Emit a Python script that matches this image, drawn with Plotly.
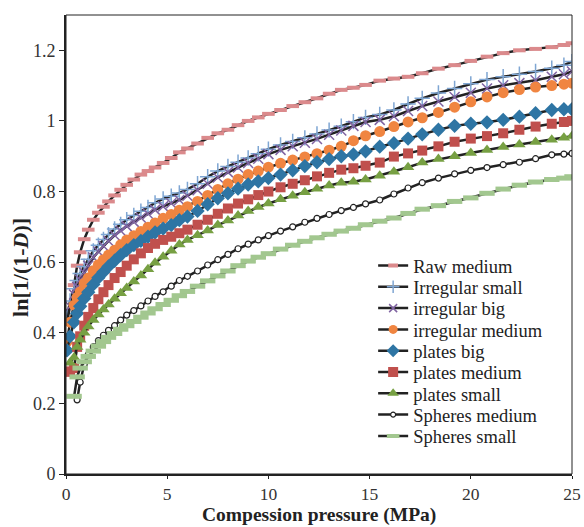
import plotly.graph_objects as go

pressure = [0.05, 0.2, 0.4, 0.55, 0.7, 0.9, 1.1, 1.35, 1.6, 1.85, 2.1, 2.4, 2.7, 3.0, 3.35, 3.7,
            4.05, 4.4, 4.8, 5.2, 5.6, 6.0, 6.5, 7.0, 7.5, 8.0, 8.5, 9.0, 9.5, 10.0, 10.6, 11.2,
            11.8, 12.4, 13.0, 13.6, 14.2, 14.8, 15.5, 16.2, 16.9, 17.6, 18.4, 19.2, 20.0, 20.8,
            21.6, 22.4, 23.2, 24.0, 24.6, 25.0]

raw_medium = [None, None, 0.535, 0.59, 0.628, 0.665, 0.692, 0.72, 0.74, 0.757, 0.772, 0.789, 0.805,
              0.819, 0.834, 0.848, 0.858, 0.868, 0.881, 0.895, 0.911, 0.922, 0.936, 0.952, 0.965,
              0.975, 0.988, 1.0, 1.01, 1.02, 1.031, 1.042, 1.053, 1.064, 1.077, 1.088, 1.094, 1.102,
              1.114, 1.12, 1.125, 1.135, 1.148, 1.158, 1.17, 1.182, 1.192, 1.2, 1.204, 1.209, 1.215, 1.22]

irregular_small = [0.445, 0.49, 0.525, 0.548, 0.568, 0.588, 0.608, 0.632, 0.648, 0.664, 0.678, 0.694,
                   0.707, 0.72, 0.732, 0.744, 0.755, 0.768, 0.779, 0.787, 0.796, 0.806, 0.822, 0.842,
                   0.858, 0.871, 0.883, 0.895, 0.907, 0.92, 0.932, 0.942, 0.952, 0.963, 0.974, 0.985,
                   0.998, 1.01, 1.018, 1.031, 1.048, 1.064, 1.079, 1.092, 1.105, 1.117, 1.125, 1.132,
                   1.14, 1.149, 1.158, 1.168]

irregular_big = [0.43, 0.475, 0.508, 0.53, 0.55, 0.57, 0.59, 0.613, 0.63, 0.646, 0.66, 0.676, 0.689,
                 0.702, 0.714, 0.726, 0.737, 0.748, 0.758, 0.767, 0.776, 0.788, 0.804, 0.822, 0.84,
                 0.855, 0.868, 0.881, 0.893, 0.906, 0.918, 0.928, 0.938, 0.949, 0.961, 0.973, 0.986,
                 0.997, 1.003, 1.013, 1.028, 1.042, 1.055, 1.068, 1.08, 1.092, 1.101, 1.107, 1.115,
                 1.125, 1.132, 1.14]

irregular_medium = [0.375, 0.43, 0.478, 0.5, 0.516, 0.54, 0.555, 0.576, 0.593, 0.607, 0.62, 0.634,
                    0.649, 0.663, 0.675, 0.687, 0.699, 0.711, 0.724, 0.735, 0.747, 0.757, 0.772, 0.789,
                    0.806, 0.822, 0.835, 0.848, 0.858, 0.869, 0.88, 0.889, 0.898, 0.907, 0.917, 0.928,
                    0.944, 0.958, 0.97, 0.984, 0.997, 1.009, 1.024, 1.039, 1.054, 1.068, 1.08, 1.089,
                    1.096, 1.1, 1.104, 1.107]

plates_big = [0.35, 0.39, 0.43, 0.455, 0.475, 0.497, 0.515, 0.537, 0.556, 0.572, 0.588, 0.604, 0.62,
              0.634, 0.648, 0.66, 0.672, 0.684, 0.695, 0.705, 0.719, 0.729, 0.745, 0.764, 0.781, 0.795,
              0.808, 0.82, 0.829, 0.838, 0.848, 0.86, 0.872, 0.883, 0.892, 0.9, 0.905, 0.914, 0.927,
              0.937, 0.95, 0.962, 0.975, 0.986, 0.992, 0.996, 1.003, 1.012, 1.022, 1.031, 1.033, 1.033]

plates_medium = [0.29, 0.29, 0.3, 0.36, 0.39, 0.42, 0.445, 0.47, 0.495, 0.515, 0.535, 0.555, 0.572,
                 0.59, 0.608, 0.625, 0.64, 0.652, 0.663, 0.672, 0.682, 0.692, 0.706, 0.72, 0.737,
                 0.752, 0.766, 0.778, 0.79, 0.8, 0.812, 0.822, 0.832, 0.843, 0.853, 0.862, 0.866,
                 0.873, 0.882, 0.899, 0.908, 0.916, 0.928, 0.941, 0.95, 0.957, 0.965, 0.975, 0.984,
                 0.992, 0.997, 1.0]

plates_small = [None, 0.315, 0.33, 0.36, 0.38, 0.4, 0.418, 0.436, 0.452, 0.466, 0.48, 0.496, 0.512,
                0.527, 0.545, 0.562, 0.58, 0.598, 0.615, 0.632, 0.65, 0.663, 0.676, 0.69, 0.705,
                0.718, 0.732, 0.745, 0.756, 0.766, 0.778, 0.788, 0.798, 0.808, 0.817, 0.825, 0.828,
                0.834, 0.845, 0.856, 0.869, 0.882, 0.892, 0.9, 0.909, 0.918, 0.926, 0.933, 0.94,
                0.947, 0.952, 0.957]

spheres_medium = [None, None, None, 0.21, 0.26, 0.31, 0.338, 0.36, 0.378, 0.393, 0.407, 0.42, 0.436,
                  0.45, 0.463, 0.476, 0.49, 0.503, 0.516, 0.532, 0.548, 0.56, 0.575, 0.592, 0.607,
                  0.622, 0.638, 0.651, 0.663, 0.675, 0.688, 0.7, 0.713, 0.724, 0.735, 0.746, 0.755,
                  0.765, 0.776, 0.793, 0.81, 0.825, 0.838, 0.85, 0.86, 0.868, 0.876, 0.883, 0.893,
                  0.904, 0.906, 0.908]

spheres_small = [None, None, 0.22, 0.275, 0.3, 0.318, 0.333, 0.348, 0.362, 0.375, 0.387, 0.398, 0.41,
                 0.42, 0.432, 0.444, 0.456, 0.468, 0.48, 0.492, 0.505, 0.517, 0.532, 0.547, 0.561,
                 0.575, 0.59, 0.603, 0.614, 0.624, 0.637, 0.648, 0.659, 0.669, 0.679, 0.688, 0.696,
                 0.706, 0.716, 0.725, 0.738, 0.75, 0.76, 0.772, 0.782, 0.795, 0.807, 0.818, 0.827,
                 0.834, 0.838, 0.842]

x_ticks = [0, 5, 10, 15, 20, 25]
y_ticks = [0, 0.2, 0.4, 0.6, 0.8, 1.0, 1.2]
y_tick_labels = ["0", "0.2", "0.4", "0.6", "0.8", "1", "1.2"]

# (name, values, marker on the curve, marker in the legend)
series = [
    ("Raw medium", raw_medium,
     dict(symbol="line-ew", size=9, color="#DB8A8C", line=dict(color="#DB8A8C", width=4)),
     dict(symbol="line-ew", size=7, color="#DB8A8C", line=dict(color="#DB8A8C", width=4))),
    ("Irregular small", irregular_small,
     dict(symbol="cross-thin", size=11, color="#7FA6D3", line=dict(color="#7FA6D3", width=1.5)),
     dict(symbol="cross-thin", size=9, color="#7FA6D3", line=dict(color="#7FA6D3", width=1.5))),
    ("irregular big", irregular_big,
     dict(symbol="x-thin", size=10, color="#8064A2", line=dict(color="#8064A2", width=1.5)),
     dict(symbol="x-thin", size=8, color="#8064A2", line=dict(color="#8064A2", width=1.5))),
    ("irregular medium", irregular_medium,
     dict(symbol="circle", size=11, color="#F08541", line=dict(width=0)),
     dict(symbol="circle", size=9, color="#F08541", line=dict(width=0))),
    ("plates big", plates_big,
     dict(symbol="diamond", size=11, color="#2E75A4", line=dict(width=0)),
     dict(symbol="diamond", size=10, color="#2E75A4", line=dict(width=0))),
    ("plates medium", plates_medium,
     dict(symbol="square", size=10, color="#C0504D", line=dict(width=0)),
     dict(symbol="square", size=10, color="#C0504D", line=dict(width=0))),
    ("plates small", plates_small,
     dict(symbol="triangle-up", size=11, color="#77A043", line=dict(width=0)),
     dict(symbol="triangle-up", size=10, color="#77A043", line=dict(width=0))),
    ("Spheres medium", spheres_medium,
     dict(symbol="circle", size=6, color="white", line=dict(color="#222222", width=1.2)),
     dict(symbol="circle", size=5, color="white", line=dict(color="#222222", width=1.2))),
    ("Spheres small", spheres_small,
     dict(symbol="line-ew", size=11, color="#A2C78F", line=dict(color="#A2C78F", width=5)),
     dict(symbol="line-ew", size=9, color="#A2C78F", line=dict(color="#A2C78F", width=4))),
]

serif = "Liberation Serif, Times New Roman, serif"

fig = go.Figure()
for name, vals, marker, _ in series:
    fig.add_trace(go.Scatter(x=pressure, y=vals, name=name, mode="lines+markers",
                             showlegend=False,
                             line=dict(color="#222222", width=2.5), marker=marker))

# legend: one small legend per entry so the rows keep the original's tight spacing
legend_layout = {}
row_top, row_step = 0.4532, 0.04641
for i, (name, _, _, lmarker) in enumerate(series):
    key = "legend" if i == 0 else f"legend{i + 1}"
    fig.add_trace(go.Scatter(x=[None], y=[None], name=name, mode="lines+markers",
                             legend=key,
                             line=dict(color="#222222", width=2.5), marker=lmarker))
    legend_layout[key] = dict(x=0.607, y=row_top - i * row_step, xanchor="left", yanchor="middle",
                              font=dict(family=serif, size=18.5, color="#222222"),
                              bgcolor="rgba(0,0,0,0)", itemwidth=30,
                              borderwidth=0)

fig.update_layout(
    width=584, height=527,
    margin=dict(l=66, r=12, t=15, b=53),
    paper_bgcolor="white", plot_bgcolor="white",
    font=dict(family=serif, size=17, color="#333333"),
    showlegend=True,
    xaxis=dict(range=[0, 25], tickvals=x_ticks, ticks="outside", ticklen=3,
               tickcolor="#222222", showline=True, linecolor="#222222", linewidth=2,
               showgrid=False, zeroline=False, automargin=False,
               tickfont=dict(family=serif, size=17.5, color="#333333")),
    yaxis=dict(range=[0, 1.3], tickvals=y_ticks, ticktext=y_tick_labels,
               ticks="outside", ticklen=5, tickcolor="#222222",
               showline=True, linecolor="#222222", linewidth=2,
               showgrid=False, zeroline=False, automargin=False,
               tickfont=dict(family=serif, size=18, color="#333333")),
    annotations=[
        dict(text="<b>ln[1/(1-<i>D</i>)]</b>", xref="paper", yref="paper",
             x=-0.09, y=0.45, xanchor="center", yanchor="middle", textangle=-90,
             showarrow=False, font=dict(family=serif, size=22, color="#222222")),
        dict(text="<b>Compession pressure (MPa)</b>", xref="paper", yref="paper",
             x=0.5, y=-0.0885, xanchor="center", yanchor="middle",
             showarrow=False, font=dict(family=serif, size=19.5, color="#222222")),
    ],
    shapes=[dict(type="rect", xref="paper", yref="paper", x0=0, y0=0, x1=1, y1=1,
                 line=dict(color="#222222", width=1), layer="above")],
    **legend_layout,
)

fig.write_html("out.html", config={"displayModeBar": False},
               post_script="document.body.style.margin='0';document.body.style.padding='0';"
                           "document.body.style.overflow='hidden';")
